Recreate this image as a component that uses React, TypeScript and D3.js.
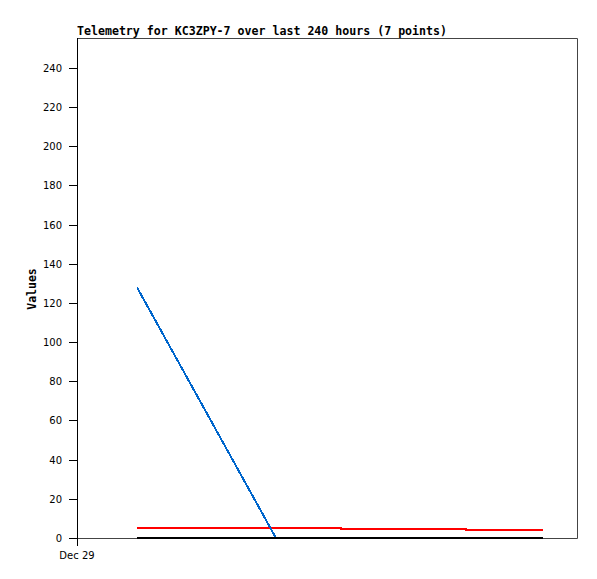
import React from "react";
import * as d3 from "d3";

const titleText = "Telemetry for KC3ZPY-7 over last 240 hours (7 points)";
const yLabel = "Values";
// hours since Dec 29 00:00
const hours = [2.88, 9.55, 12.67, 15.5, 18.67, 20.5, 22.37];
const blueVals = [128, 0, 0, 0, 0, 0, 0];
const redVals = [5, 5, 4.5, 4.5, 4, 4, 4];
const blackVals = [0, 0, 0, 0, 0, 0, 0];
const yTicks = [0, 20, 40, 60, 80, 100, 120, 140, 160, 180, 200, 220, 240];
const xTickHours = [0];
const xTickLabels = ["Dec 29"];

const W = 597, H = 579;
const L = 77, R = 577, T = 38, B = 538;

export default function App() {
  const x = d3.scaleLinear().domain([0, 24]).range([L, R]);
  const y = d3.scaleLinear().domain([0, 255.3]).range([B, T]);
  const lin = d3.line<number>().x((_, i) => x(hours[i])).y((v) => y(v));
  const step = d3
    .line<number>()
    .x((_, i) => x(hours[i]))
    .y((v) => y(v))
    .curve(d3.curveStepAfter);
  const font = "'DejaVu Sans', sans-serif";
  const mono = "'DejaVu Sans Mono', 'Liberation Mono', monospace";
  return (
    <svg
      width={W}
      height={H}
      style={{ position: "absolute", left: 0, top: 0, background: "#fff" }}
    >
      <rect x={0} y={0} width={W} height={H} fill="#fff" />
      <text
        x={L}
        y={35}
        fontFamily={mono}
        fontWeight="bold"
        fontSize={11.5}
        textLength={370}
        lengthAdjust="spacingAndGlyphs"
        fill="#000"
      >
        {titleText}
      </text>
      {/* frame */}
      <path
        d={`M${L},${T + 0.5}H${R + 0.5}V${B + 0.5}H${L}`}
        fill="none"
        stroke="#444"
        strokeWidth={1}
      />
      {/* y axis */}
      <line x1={L + 0.5} x2={L + 0.5} y1={T} y2={B + 8} stroke="#000" />
      {yTicks.map((t) => (
        <g key={t}>
          <line
            x1={L - 8}
            x2={L}
            y1={Math.round(y(t)) + 0.5}
            y2={Math.round(y(t)) + 0.5}
            stroke="#000"
          />
          <text
            x={62}
            y={Math.round(y(t)) + 4}
            textAnchor="end"
            fontFamily={font}
            fontSize={10}
            fill="#000"
          >
            {t}
          </text>
        </g>
      ))}
      {xTickHours.map((h, i) => (
        <g key={h}>
          <line
            x1={Math.round(x(h)) + 0.5}
            x2={Math.round(x(h)) + 0.5}
            y1={B}
            y2={B + 8}
            stroke="#000"
          />
          <text
            x={x(h)}
            y={559}
            textAnchor="middle"
            fontFamily={font}
            fontSize={10}
            fill="#000"
          >
            {xTickLabels[i]}
          </text>
        </g>
      ))}
      <text
        transform={`translate(36,${(T + B) / 2 + 1}) rotate(-90)`}
        textAnchor="middle"
        fontFamily={mono}
        fontWeight="bold"
        fontSize={11.5}
        fill="#000"
      >
        {yLabel}
      </text>
      {/* data */}
      <path
        d={step(redVals) || ""}
        fill="none"
        stroke="#ff0000"
        strokeWidth={2}
        shapeRendering="crispEdges"
      />
      <path
        d={lin(blueVals) || ""}
        fill="none"
        stroke="#0066cc"
        strokeWidth={2}
        shapeRendering="crispEdges"
      />
      <path
        d={lin(blackVals) || ""}
        fill="none"
        stroke="#000"
        strokeWidth={2}
        shapeRendering="crispEdges"
        transform="translate(0,-0.5)"
      />
    </svg>
  );
}
